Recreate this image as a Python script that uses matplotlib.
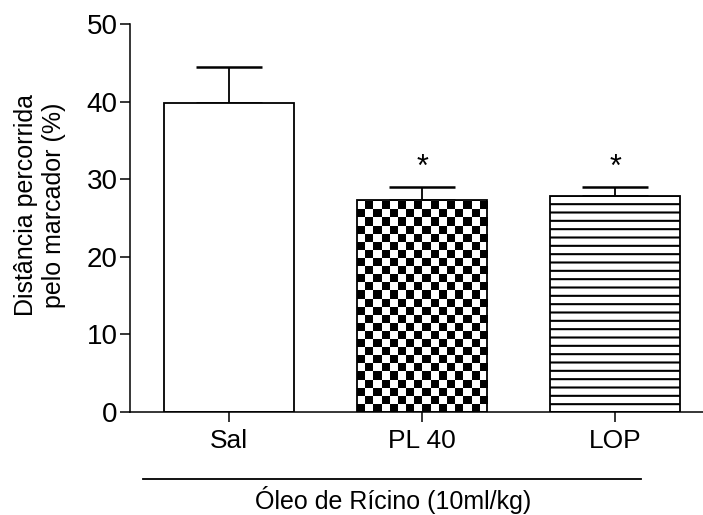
import numpy as np
import matplotlib
matplotlib.use("Agg")
import matplotlib.pyplot as plt

plt.rcParams['font.family'] = ['Liberation Sans', 'DejaVu Sans']
plt.rcParams['hatch.linewidth'] = 1.5

# data
groups = ['Sal', 'PL 40', 'LOP']
means = [39.9, 27.3, 27.9]
sems = [4.6, 1.7, 1.1]
signif = ['', '*', '*']
group_label = 'Óleo de Rícino (10ml/kg)'
y_label = 'Distância percorrida\npelo marcador (%)'
y_ticks = [0, 10, 20, 30, 40, 50]

fig = plt.figure(figsize=(7.03, 5.15), dpi=100)
ax = fig.add_axes([0.185, 0.2, 0.815, 0.753])

x = np.arange(len(groups))
width = 0.675
bars = ax.bar(x, means, width=width, color='white', edgecolor='black',
              linewidth=1.3, zorder=2)
ax.errorbar(x, means, yerr=[np.zeros(len(sems)), sems], fmt='none',
            ecolor='black', elinewidth=1.3, capsize=24, capthick=1.8, zorder=1)

# checkerboard fill for PL 40
b = bars[1]
b.set_facecolor('none')
b.set_zorder(3)
bx, by = b.get_x(), b.get_y()
bw, bh = b.get_width(), b.get_height()
ncols = 16
cell = 8.1 * 50 / 388
nrows = int(np.ceil(bh / cell))
checker = (np.add.outer(np.arange(nrows), np.arange(ncols)) % 2)
img = ax.imshow(checker, cmap='gray', interpolation='nearest', aspect='auto',
                extent=[bx, bx + bw, by, by + nrows * cell],
                origin='lower', zorder=2.5)
img.set_clip_path(b)

# horizontal lines for LOP
bars[2].set_hatch('--')

for xi, m, s, t in zip(x, means, sems, signif):
    if t:
        ax.text(xi, m + s + 0.6, t, ha='center', va='bottom', fontsize=22)

ax.set_xlim(-0.513, 2.456)
ax.set_ylim(0, 50)
ax.set_yticks(y_ticks)
ax.set_xticks(x)
ax.set_xticklabels(groups)
ax.tick_params(axis='y', labelsize=20, length=7, width=1.1, direction='out', pad=2)
ax.tick_params(axis='x', labelsize=19, length=7, width=1.1, direction='out', pad=5)
ax.spines['top'].set_visible(False)
ax.spines['right'].set_visible(False)
ax.spines['left'].set_linewidth(1.1)
ax.spines['bottom'].set_linewidth(1.1)
ax.set_ylabel(y_label, fontsize=18, linespacing=1.2, va='center')
ax.yaxis.set_label_coords(-0.157, 0.533)

# group line and label below x axis
trans = ax.get_xaxis_transform()
ax.plot([-0.446, 2.135], [-0.173, -0.173], color='black', lw=1.3,
        transform=trans, clip_on=False)
ax.text(0.85, -0.25, group_label, transform=trans, ha='center', va='baseline',
        fontsize=18)

fig.savefig('out.png', dpi=100)
